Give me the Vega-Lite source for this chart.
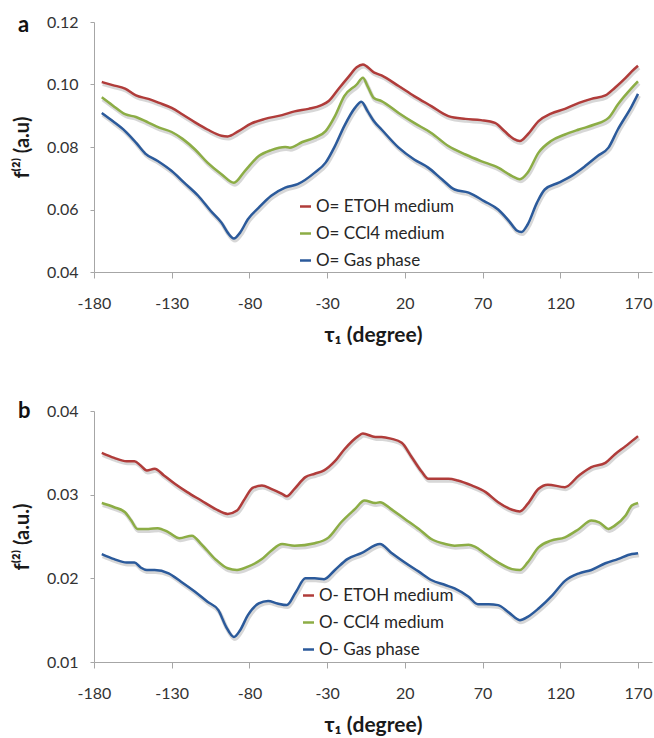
{
  "$schema": "https://vega.github.io/schema/vega-lite/v6.json",
  "padding": {"left": 12, "top": 14, "right": 2, "bottom": 2},
  "spacing": 55,
  "background": "white",
  "config": {
    "view": {"stroke": null},
    "font": "Lato",
    "axis": {
      "grid": false,
      "labelFlush": false,
      "domainColor": "#A6A6A6",
      "tickColor": "#A6A6A6",
      "labelFont": "Lato",
      "labelFontSize": 16,
      "labelColor": "#333333",
      "titleFont": "Lato",
      "titleFontWeight": "bold",
      "titleColor": "#1a1a1a"
    },
    "axisX": {"tickSize": 6, "labelPadding": 17, "titlePadding": 13, "titleFontSize": 21},
    "axisY": {"tickSize": 4, "labelPadding": 12, "titlePadding": 14, "titleFontSize": 20},
    "legend": {"labelFont": "Lato", "labelFontSize": 17, "labelColor": "#262626"}
  },
  "resolve": {"scale": {"color": "independent"}, "legend": {"color": "independent"}},
  "datasets": {
    "a": [
      {"series": "O= ETOH medium", "tau": -175, "f": 0.1008},
      {"series": "O= ETOH medium", "tau": -168, "f": 0.0998},
      {"series": "O= ETOH medium", "tau": -160, "f": 0.0987},
      {"series": "O= ETOH medium", "tau": -153, "f": 0.0965},
      {"series": "O= ETOH medium", "tau": -145, "f": 0.0954},
      {"series": "O= ETOH medium", "tau": -138, "f": 0.0941},
      {"series": "O= ETOH medium", "tau": -130, "f": 0.0925},
      {"series": "O= ETOH medium", "tau": -123, "f": 0.0904},
      {"series": "O= ETOH medium", "tau": -115, "f": 0.0879},
      {"series": "O= ETOH medium", "tau": -107, "f": 0.0856},
      {"series": "O= ETOH medium", "tau": -98, "f": 0.0836},
      {"series": "O= ETOH medium", "tau": -94, "f": 0.0834},
      {"series": "O= ETOH medium", "tau": -87, "f": 0.0851},
      {"series": "O= ETOH medium", "tau": -79, "f": 0.0875},
      {"series": "O= ETOH medium", "tau": -70, "f": 0.0890},
      {"series": "O= ETOH medium", "tau": -59, "f": 0.0902},
      {"series": "O= ETOH medium", "tau": -51, "f": 0.0914},
      {"series": "O= ETOH medium", "tau": -42, "f": 0.0922},
      {"series": "O= ETOH medium", "tau": -34, "f": 0.0933},
      {"series": "O= ETOH medium", "tau": -29, "f": 0.0947},
      {"series": "O= ETOH medium", "tau": -23, "f": 0.0984},
      {"series": "O= ETOH medium", "tau": -16, "f": 0.1026},
      {"series": "O= ETOH medium", "tau": -11, "f": 0.1055},
      {"series": "O= ETOH medium", "tau": -7, "f": 0.1064},
      {"series": "O= ETOH medium", "tau": 0, "f": 0.1039},
      {"series": "O= ETOH medium", "tau": 5, "f": 0.1029},
      {"series": "O= ETOH medium", "tau": 16, "f": 0.0995},
      {"series": "O= ETOH medium", "tau": 26, "f": 0.0963},
      {"series": "O= ETOH medium", "tau": 37, "f": 0.0931},
      {"series": "O= ETOH medium", "tau": 48, "f": 0.0899},
      {"series": "O= ETOH medium", "tau": 59, "f": 0.0890},
      {"series": "O= ETOH medium", "tau": 69, "f": 0.0886},
      {"series": "O= ETOH medium", "tau": 78, "f": 0.0877},
      {"series": "O= ETOH medium", "tau": 84, "f": 0.0851},
      {"series": "O= ETOH medium", "tau": 90, "f": 0.0826},
      {"series": "O= ETOH medium", "tau": 94, "f": 0.0819},
      {"series": "O= ETOH medium", "tau": 99, "f": 0.0840},
      {"series": "O= ETOH medium", "tau": 106, "f": 0.0883},
      {"series": "O= ETOH medium", "tau": 114, "f": 0.0907},
      {"series": "O= ETOH medium", "tau": 123, "f": 0.0922},
      {"series": "O= ETOH medium", "tau": 132, "f": 0.0941},
      {"series": "O= ETOH medium", "tau": 140, "f": 0.0954},
      {"series": "O= ETOH medium", "tau": 149, "f": 0.0965},
      {"series": "O= ETOH medium", "tau": 155, "f": 0.0989},
      {"series": "O= ETOH medium", "tau": 162, "f": 0.1021},
      {"series": "O= ETOH medium", "tau": 166, "f": 0.1042},
      {"series": "O= ETOH medium", "tau": 170, "f": 0.1060},
      {"series": "O= CCl4 medium", "tau": -175, "f": 0.0959},
      {"series": "O= CCl4 medium", "tau": -168, "f": 0.0933},
      {"series": "O= CCl4 medium", "tau": -160, "f": 0.0905},
      {"series": "O= CCl4 medium", "tau": -153, "f": 0.0896},
      {"series": "O= CCl4 medium", "tau": -145, "f": 0.0878},
      {"series": "O= CCl4 medium", "tau": -138, "f": 0.0862},
      {"series": "O= CCl4 medium", "tau": -130, "f": 0.0848},
      {"series": "O= CCl4 medium", "tau": -123, "f": 0.0826},
      {"series": "O= CCl4 medium", "tau": -115, "f": 0.0792},
      {"series": "O= CCl4 medium", "tau": -107, "f": 0.0750},
      {"series": "O= CCl4 medium", "tau": -98, "f": 0.0713},
      {"series": "O= CCl4 medium", "tau": -90, "f": 0.0686},
      {"series": "O= CCl4 medium", "tau": -83, "f": 0.0723},
      {"series": "O= CCl4 medium", "tau": -74, "f": 0.0771},
      {"series": "O= CCl4 medium", "tau": -66, "f": 0.0790},
      {"series": "O= CCl4 medium", "tau": -57, "f": 0.0800},
      {"series": "O= CCl4 medium", "tau": -54, "f": 0.0798},
      {"series": "O= CCl4 medium", "tau": -46, "f": 0.0816},
      {"series": "O= CCl4 medium", "tau": -38, "f": 0.0830},
      {"series": "O= CCl4 medium", "tau": -31, "f": 0.0851},
      {"series": "O= CCl4 medium", "tau": -25, "f": 0.0899},
      {"series": "O= CCl4 medium", "tau": -19, "f": 0.0963},
      {"series": "O= CCl4 medium", "tau": -11, "f": 0.1000},
      {"series": "O= CCl4 medium", "tau": -7, "f": 0.1022},
      {"series": "O= CCl4 medium", "tau": -4, "f": 0.0995},
      {"series": "O= CCl4 medium", "tau": 0, "f": 0.0957},
      {"series": "O= CCl4 medium", "tau": 5, "f": 0.0947},
      {"series": "O= CCl4 medium", "tau": 16, "f": 0.0909},
      {"series": "O= CCl4 medium", "tau": 26, "f": 0.0877},
      {"series": "O= CCl4 medium", "tau": 37, "f": 0.0845},
      {"series": "O= CCl4 medium", "tau": 48, "f": 0.0803},
      {"series": "O= CCl4 medium", "tau": 59, "f": 0.0776},
      {"series": "O= CCl4 medium", "tau": 69, "f": 0.0755},
      {"series": "O= CCl4 medium", "tau": 80, "f": 0.0734},
      {"series": "O= CCl4 medium", "tau": 89, "f": 0.0707},
      {"series": "O= CCl4 medium", "tau": 94, "f": 0.0697},
      {"series": "O= CCl4 medium", "tau": 99, "f": 0.0718},
      {"series": "O= CCl4 medium", "tau": 106, "f": 0.0782},
      {"series": "O= CCl4 medium", "tau": 114, "f": 0.0819},
      {"series": "O= CCl4 medium", "tau": 123, "f": 0.0840},
      {"series": "O= CCl4 medium", "tau": 132, "f": 0.0856},
      {"series": "O= CCl4 medium", "tau": 142, "f": 0.0872},
      {"series": "O= CCl4 medium", "tau": 151, "f": 0.0893},
      {"series": "O= CCl4 medium", "tau": 157, "f": 0.0936},
      {"series": "O= CCl4 medium", "tau": 166, "f": 0.0989},
      {"series": "O= CCl4 medium", "tau": 170, "f": 0.1010},
      {"series": "O= Gas phase", "tau": -175, "f": 0.0909},
      {"series": "O= Gas phase", "tau": -168, "f": 0.0883},
      {"series": "O= Gas phase", "tau": -160, "f": 0.0851},
      {"series": "O= Gas phase", "tau": -153, "f": 0.0814},
      {"series": "O= Gas phase", "tau": -147, "f": 0.0779},
      {"series": "O= Gas phase", "tau": -139, "f": 0.0755},
      {"series": "O= Gas phase", "tau": -130, "f": 0.0723},
      {"series": "O= Gas phase", "tau": -122, "f": 0.0686},
      {"series": "O= Gas phase", "tau": -113, "f": 0.0644},
      {"series": "O= Gas phase", "tau": -105, "f": 0.0596},
      {"series": "O= Gas phase", "tau": -98, "f": 0.0558},
      {"series": "O= Gas phase", "tau": -94, "f": 0.0526},
      {"series": "O= Gas phase", "tau": -90, "f": 0.0507},
      {"series": "O= Gas phase", "tau": -86, "f": 0.0526},
      {"series": "O= Gas phase", "tau": -81, "f": 0.0569},
      {"series": "O= Gas phase", "tau": -74, "f": 0.0606},
      {"series": "O= Gas phase", "tau": -66, "f": 0.0644},
      {"series": "O= Gas phase", "tau": -57, "f": 0.0670},
      {"series": "O= Gas phase", "tau": -49, "f": 0.0681},
      {"series": "O= Gas phase", "tau": -38, "f": 0.0718},
      {"series": "O= Gas phase", "tau": -31, "f": 0.0750},
      {"series": "O= Gas phase", "tau": -25, "f": 0.0803},
      {"series": "O= Gas phase", "tau": -19, "f": 0.0867},
      {"series": "O= Gas phase", "tau": -12, "f": 0.0926},
      {"series": "O= Gas phase", "tau": -8, "f": 0.0945},
      {"series": "O= Gas phase", "tau": -4, "f": 0.0915},
      {"series": "O= Gas phase", "tau": 0, "f": 0.0883},
      {"series": "O= Gas phase", "tau": 5, "f": 0.0856},
      {"series": "O= Gas phase", "tau": 16, "f": 0.0798},
      {"series": "O= Gas phase", "tau": 26, "f": 0.0760},
      {"series": "O= Gas phase", "tau": 35, "f": 0.0734},
      {"series": "O= Gas phase", "tau": 44, "f": 0.0696},
      {"series": "O= Gas phase", "tau": 52, "f": 0.0664},
      {"series": "O= Gas phase", "tau": 61, "f": 0.0654},
      {"series": "O= Gas phase", "tau": 71, "f": 0.0627},
      {"series": "O= Gas phase", "tau": 80, "f": 0.0600},
      {"series": "O= Gas phase", "tau": 87, "f": 0.0563},
      {"series": "O= Gas phase", "tau": 92, "f": 0.0533},
      {"series": "O= Gas phase", "tau": 95, "f": 0.0528},
      {"series": "O= Gas phase", "tau": 99, "f": 0.0552},
      {"series": "O= Gas phase", "tau": 105, "f": 0.0622},
      {"series": "O= Gas phase", "tau": 110, "f": 0.0664},
      {"series": "O= Gas phase", "tau": 119, "f": 0.0686},
      {"series": "O= Gas phase", "tau": 127, "f": 0.0707},
      {"series": "O= Gas phase", "tau": 136, "f": 0.0739},
      {"series": "O= Gas phase", "tau": 144, "f": 0.0771},
      {"series": "O= Gas phase", "tau": 151, "f": 0.0798},
      {"series": "O= Gas phase", "tau": 157, "f": 0.0856},
      {"series": "O= Gas phase", "tau": 166, "f": 0.0931},
      {"series": "O= Gas phase", "tau": 170, "f": 0.0970}
    ],
    "b": [
      {"series": "O- ETOH medium", "tau": -175, "f": 0.0350},
      {"series": "O- ETOH medium", "tau": -167, "f": 0.0344},
      {"series": "O- ETOH medium", "tau": -159, "f": 0.0340},
      {"series": "O- ETOH medium", "tau": -154, "f": 0.0340},
      {"series": "O- ETOH medium", "tau": -150, "f": 0.0335},
      {"series": "O- ETOH medium", "tau": -146, "f": 0.0329},
      {"series": "O- ETOH medium", "tau": -141, "f": 0.0331},
      {"series": "O- ETOH medium", "tau": -135, "f": 0.0323},
      {"series": "O- ETOH medium", "tau": -128, "f": 0.0313},
      {"series": "O- ETOH medium", "tau": -120, "f": 0.0303},
      {"series": "O- ETOH medium", "tau": -111, "f": 0.0293},
      {"series": "O- ETOH medium", "tau": -102, "f": 0.0283},
      {"series": "O- ETOH medium", "tau": -94, "f": 0.0277},
      {"series": "O- ETOH medium", "tau": -88, "f": 0.0281},
      {"series": "O- ETOH medium", "tau": -83, "f": 0.0295},
      {"series": "O- ETOH medium", "tau": -78, "f": 0.0308},
      {"series": "O- ETOH medium", "tau": -72, "f": 0.0311},
      {"series": "O- ETOH medium", "tau": -66, "f": 0.0307},
      {"series": "O- ETOH medium", "tau": -59, "f": 0.0301},
      {"series": "O- ETOH medium", "tau": -56, "f": 0.0298},
      {"series": "O- ETOH medium", "tau": -51, "f": 0.0307},
      {"series": "O- ETOH medium", "tau": -44, "f": 0.0321},
      {"series": "O- ETOH medium", "tau": -38, "f": 0.0325},
      {"series": "O- ETOH medium", "tau": -32, "f": 0.0329},
      {"series": "O- ETOH medium", "tau": -25, "f": 0.0340},
      {"series": "O- ETOH medium", "tau": -19, "f": 0.0354},
      {"series": "O- ETOH medium", "tau": -10, "f": 0.0370},
      {"series": "O- ETOH medium", "tau": -7, "f": 0.0373},
      {"series": "O- ETOH medium", "tau": 1, "f": 0.0369},
      {"series": "O- ETOH medium", "tau": 5, "f": 0.0369},
      {"series": "O- ETOH medium", "tau": 11, "f": 0.0367},
      {"series": "O- ETOH medium", "tau": 18, "f": 0.0362},
      {"series": "O- ETOH medium", "tau": 24, "f": 0.0346},
      {"series": "O- ETOH medium", "tau": 31, "f": 0.0327},
      {"series": "O- ETOH medium", "tau": 35, "f": 0.0319},
      {"series": "O- ETOH medium", "tau": 42, "f": 0.0319},
      {"series": "O- ETOH medium", "tau": 48, "f": 0.0319},
      {"series": "O- ETOH medium", "tau": 54, "f": 0.0317},
      {"series": "O- ETOH medium", "tau": 63, "f": 0.0311},
      {"series": "O- ETOH medium", "tau": 72, "f": 0.0303},
      {"series": "O- ETOH medium", "tau": 80, "f": 0.0291},
      {"series": "O- ETOH medium", "tau": 89, "f": 0.0282},
      {"series": "O- ETOH medium", "tau": 94, "f": 0.0280},
      {"series": "O- ETOH medium", "tau": 99, "f": 0.0289},
      {"series": "O- ETOH medium", "tau": 106, "f": 0.0307},
      {"series": "O- ETOH medium", "tau": 112, "f": 0.0312},
      {"series": "O- ETOH medium", "tau": 123, "f": 0.0309},
      {"series": "O- ETOH medium", "tau": 132, "f": 0.0323},
      {"series": "O- ETOH medium", "tau": 140, "f": 0.0333},
      {"series": "O- ETOH medium", "tau": 149, "f": 0.0338},
      {"series": "O- ETOH medium", "tau": 155, "f": 0.0348},
      {"series": "O- ETOH medium", "tau": 162, "f": 0.0358},
      {"series": "O- ETOH medium", "tau": 166, "f": 0.0364},
      {"series": "O- ETOH medium", "tau": 170, "f": 0.0370},
      {"series": "O- CCl4 medium", "tau": -175, "f": 0.0290},
      {"series": "O- CCl4 medium", "tau": -167, "f": 0.0285},
      {"series": "O- CCl4 medium", "tau": -160, "f": 0.0279},
      {"series": "O- CCl4 medium", "tau": -156, "f": 0.0269},
      {"series": "O- CCl4 medium", "tau": -152, "f": 0.0259},
      {"series": "O- CCl4 medium", "tau": -145, "f": 0.0259},
      {"series": "O- CCl4 medium", "tau": -139, "f": 0.0260},
      {"series": "O- CCl4 medium", "tau": -132, "f": 0.0255},
      {"series": "O- CCl4 medium", "tau": -125, "f": 0.0248},
      {"series": "O- CCl4 medium", "tau": -117, "f": 0.0251},
      {"series": "O- CCl4 medium", "tau": -111, "f": 0.0241},
      {"series": "O- CCl4 medium", "tau": -102, "f": 0.0223},
      {"series": "O- CCl4 medium", "tau": -94, "f": 0.0212},
      {"series": "O- CCl4 medium", "tau": -88, "f": 0.0210},
      {"series": "O- CCl4 medium", "tau": -81, "f": 0.0214},
      {"series": "O- CCl4 medium", "tau": -72, "f": 0.0223},
      {"series": "O- CCl4 medium", "tau": -66, "f": 0.0233},
      {"series": "O- CCl4 medium", "tau": -59, "f": 0.0241},
      {"series": "O- CCl4 medium", "tau": -51, "f": 0.0239},
      {"series": "O- CCl4 medium", "tau": -38, "f": 0.0242},
      {"series": "O- CCl4 medium", "tau": -29, "f": 0.0249},
      {"series": "O- CCl4 medium", "tau": -21, "f": 0.0267},
      {"series": "O- CCl4 medium", "tau": -12, "f": 0.0283},
      {"series": "O- CCl4 medium", "tau": -6, "f": 0.0293},
      {"series": "O- CCl4 medium", "tau": 1, "f": 0.0290},
      {"series": "O- CCl4 medium", "tau": 4, "f": 0.0291},
      {"series": "O- CCl4 medium", "tau": 11, "f": 0.0283},
      {"series": "O- CCl4 medium", "tau": 20, "f": 0.0271},
      {"series": "O- CCl4 medium", "tau": 29, "f": 0.0259},
      {"series": "O- CCl4 medium", "tau": 37, "f": 0.0247},
      {"series": "O- CCl4 medium", "tau": 46, "f": 0.0241},
      {"series": "O- CCl4 medium", "tau": 52, "f": 0.0239},
      {"series": "O- CCl4 medium", "tau": 61, "f": 0.0240},
      {"series": "O- CCl4 medium", "tau": 65, "f": 0.0238},
      {"series": "O- CCl4 medium", "tau": 72, "f": 0.0229},
      {"series": "O- CCl4 medium", "tau": 80, "f": 0.0219},
      {"series": "O- CCl4 medium", "tau": 89, "f": 0.0211},
      {"series": "O- CCl4 medium", "tau": 94, "f": 0.0210},
      {"series": "O- CCl4 medium", "tau": 99, "f": 0.0219},
      {"series": "O- CCl4 medium", "tau": 106, "f": 0.0237},
      {"series": "O- CCl4 medium", "tau": 114, "f": 0.0245},
      {"series": "O- CCl4 medium", "tau": 123, "f": 0.0249},
      {"series": "O- CCl4 medium", "tau": 132, "f": 0.0259},
      {"series": "O- CCl4 medium", "tau": 140, "f": 0.0269},
      {"series": "O- CCl4 medium", "tau": 145, "f": 0.0267},
      {"series": "O- CCl4 medium", "tau": 151, "f": 0.0259},
      {"series": "O- CCl4 medium", "tau": 155, "f": 0.0263},
      {"series": "O- CCl4 medium", "tau": 162, "f": 0.0275},
      {"series": "O- CCl4 medium", "tau": 166, "f": 0.0287},
      {"series": "O- CCl4 medium", "tau": 170, "f": 0.0290},
      {"series": "O- Gas phase", "tau": -175, "f": 0.0229},
      {"series": "O- Gas phase", "tau": -167, "f": 0.0223},
      {"series": "O- Gas phase", "tau": -159, "f": 0.0219},
      {"series": "O- Gas phase", "tau": -154, "f": 0.0219},
      {"series": "O- Gas phase", "tau": -150, "f": 0.0213},
      {"series": "O- Gas phase", "tau": -146, "f": 0.0210},
      {"series": "O- Gas phase", "tau": -141, "f": 0.0210},
      {"series": "O- Gas phase", "tau": -132, "f": 0.0206},
      {"series": "O- Gas phase", "tau": -124, "f": 0.0196},
      {"series": "O- Gas phase", "tau": -115, "f": 0.0184},
      {"series": "O- Gas phase", "tau": -107, "f": 0.0172},
      {"series": "O- Gas phase", "tau": -100, "f": 0.0162},
      {"series": "O- Gas phase", "tau": -95, "f": 0.0142},
      {"series": "O- Gas phase", "tau": -90, "f": 0.0130},
      {"series": "O- Gas phase", "tau": -86, "f": 0.0138},
      {"series": "O- Gas phase", "tau": -81, "f": 0.0156},
      {"series": "O- Gas phase", "tau": -74, "f": 0.0170},
      {"series": "O- Gas phase", "tau": -68, "f": 0.0173},
      {"series": "O- Gas phase", "tau": -62, "f": 0.0170},
      {"series": "O- Gas phase", "tau": -56, "f": 0.0168},
      {"series": "O- Gas phase", "tau": -50, "f": 0.0184},
      {"series": "O- Gas phase", "tau": -44, "f": 0.0200},
      {"series": "O- Gas phase", "tau": -38, "f": 0.0200},
      {"series": "O- Gas phase", "tau": -32, "f": 0.0199},
      {"series": "O- Gas phase", "tau": -25, "f": 0.0210},
      {"series": "O- Gas phase", "tau": -17, "f": 0.0223},
      {"series": "O- Gas phase", "tau": -8, "f": 0.0230},
      {"series": "O- Gas phase", "tau": 4, "f": 0.0241},
      {"series": "O- Gas phase", "tau": 11, "f": 0.0231},
      {"series": "O- Gas phase", "tau": 20, "f": 0.0219},
      {"series": "O- Gas phase", "tau": 29, "f": 0.0208},
      {"series": "O- Gas phase", "tau": 37, "f": 0.0198},
      {"series": "O- Gas phase", "tau": 46, "f": 0.0192},
      {"series": "O- Gas phase", "tau": 52, "f": 0.0188},
      {"series": "O- Gas phase", "tau": 61, "f": 0.0178},
      {"series": "O- Gas phase", "tau": 67, "f": 0.0169},
      {"series": "O- Gas phase", "tau": 74, "f": 0.0169},
      {"series": "O- Gas phase", "tau": 80, "f": 0.0168},
      {"series": "O- Gas phase", "tau": 87, "f": 0.0159},
      {"series": "O- Gas phase", "tau": 94, "f": 0.0150},
      {"series": "O- Gas phase", "tau": 99, "f": 0.0154},
      {"series": "O- Gas phase", "tau": 106, "f": 0.0164},
      {"series": "O- Gas phase", "tau": 115, "f": 0.0180},
      {"series": "O- Gas phase", "tau": 123, "f": 0.0197},
      {"series": "O- Gas phase", "tau": 132, "f": 0.0206},
      {"series": "O- Gas phase", "tau": 140, "f": 0.0210},
      {"series": "O- Gas phase", "tau": 149, "f": 0.0218},
      {"series": "O- Gas phase", "tau": 157, "f": 0.0223},
      {"series": "O- Gas phase", "tau": 166, "f": 0.0229},
      {"series": "O- Gas phase", "tau": 170, "f": 0.0230}
    ]
  },
  "vconcat": [
    {
      "width": 558,
      "height": 250,
      "title": {"text": "a", "anchor": "start", "frame": "group", "fontSize": 22, "fontWeight": "bold", "color": "#111111", "baseline": "alphabetic", "offset": 0, "dx": -76, "dy": 40},
      "data": {"name": "a"},
      "encoding": {
        "x": {"field": "tau", "type": "quantitative", "scale": {"domain": [-180, 179], "nice": false, "zero": false}, "axis": {"values": [-180, -130, -80, -30, 20, 70, 120, 170], "labelExpr": "'' + datum.value", "title": "τ₁ (degree)"}},
        "y": {"field": "f", "type": "quantitative", "scale": {"domain": [0.04, 0.12], "nice": false, "zero": false}, "axis": {"values": [0.04, 0.06, 0.08, 0.1, 0.12], "format": ".2f", "title": "f⁽²⁾ (a.u)"}}
      },
      "layer": [
        {"mark": {"type": "line", "interpolate": "monotone", "strokeWidth": 4, "color": "#8c8c8c", "opacity": 0.35, "xOffset": 1, "yOffset": 2}, "encoding": {"detail": {"field": "series"}}},
        {"mark": {"type": "line", "interpolate": "monotone", "strokeWidth": 2.5}, "encoding": {"color": {"field": "series", "type": "nominal", "scale": {"domain": ["O= ETOH medium", "O= CCl4 medium", "O= Gas phase"], "range": ["#B03C3A", "#8CAD45", "#2B5A9B"]}, "legend": {"orient": "none", "legendX": 203, "legendY": 176, "title": null, "symbolType": "stroke", "symbolSize": 121, "symbolStrokeWidth": 2.5, "labelOffset": 2, "rowPadding": 9, "padding": 0}}}}
      ]
    },
    {
      "width": 558,
      "height": 251,
      "title": {"text": "b", "anchor": "start", "frame": "group", "fontSize": 22, "fontWeight": "bold", "color": "#111111", "baseline": "alphabetic", "offset": 0, "dx": -76, "dy": 37},
      "data": {"name": "b"},
      "encoding": {
        "x": {"field": "tau", "type": "quantitative", "scale": {"domain": [-180, 179], "nice": false, "zero": false}, "axis": {"values": [-180, -130, -80, -30, 20, 70, 120, 170], "labelExpr": "'' + datum.value", "title": "τ₁ (degree)"}},
        "y": {"field": "f", "type": "quantitative", "scale": {"domain": [0.01, 0.04], "nice": false, "zero": false}, "axis": {"values": [0.01, 0.02, 0.03, 0.04], "format": ".2f", "title": "f⁽²⁾ (a.u.)"}}
      },
      "layer": [
        {"mark": {"type": "line", "interpolate": "monotone", "strokeWidth": 4, "color": "#8c8c8c", "opacity": 0.35, "xOffset": 1, "yOffset": 2}, "encoding": {"detail": {"field": "series"}}},
        {"mark": {"type": "line", "interpolate": "monotone", "strokeWidth": 2.5}, "encoding": {"color": {"field": "series", "type": "nominal", "scale": {"domain": ["O- ETOH medium", "O- CCl4 medium", "O- Gas phase"], "range": ["#B03C3A", "#8CAD45", "#2B5A9B"]}, "legend": {"orient": "none", "legendX": 206, "legendY": 176, "title": null, "symbolType": "stroke", "symbolSize": 121, "symbolStrokeWidth": 2.5, "labelOffset": 2, "rowPadding": 9, "padding": 0}}}}
      ]
    }
  ]
}
